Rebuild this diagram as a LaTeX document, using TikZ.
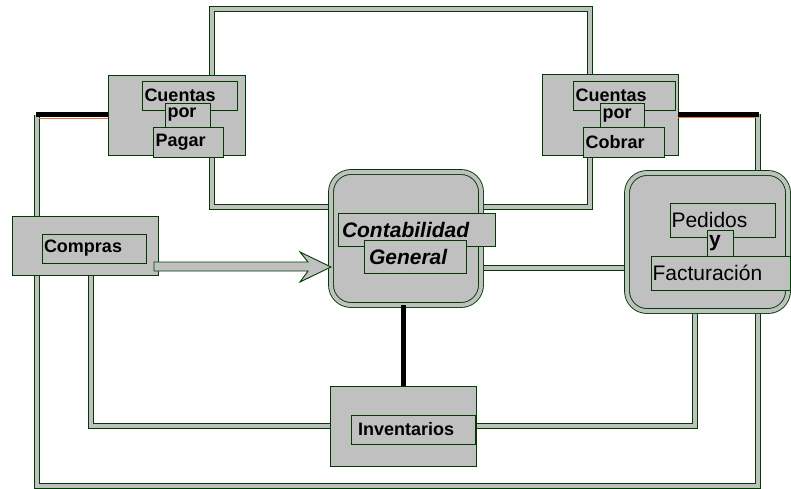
\documentclass[tikz,border=0pt]{standalone}
\usepackage{fontspec}
\setmainfont{Liberation Sans}
\usetikzlibrary{backgrounds}
\definecolor{boxgray}{RGB}{192,192,192}
\definecolor{dkgreen}{RGB}{0,60,0}
\definecolor{shadeorange}{RGB}{235,110,50}
\begin{document}
\begin{tikzpicture}[x=1pt, y=-1pt,
    blk/.style={draw=dkgreen, fill=boxgray, line width=0.9pt, anchor=north west, inner sep=0pt, outer sep=0pt},
    rblk/.style={blk, double=boxgray, double distance=4pt, rounded corners=20pt},
    lbl/.style={blk, align=left, inner xsep=2.5pt, font=\fontsize{18}{20}\selectfont\bfseries},
    pipe/.style={draw=dkgreen, line width=1pt, double=boxgray, double distance=4pt},
    bar/.style={line width=5pt, black}]
    \useasboundingbox (0,0) rectangle (791,489);
    % outer boxes
    \node[blk, minimum width=137pt, minimum height=80pt] (cxp) at (108,75) {};
    \node[blk, minimum width=136pt, minimum height=81pt] (cxc) at (542,74) {};
    \node[rblk, minimum width=150pt, minimum height=133pt] (conta) at (331,172) {};
    \node[rblk, minimum width=161pt, minimum height=138pt] (pyf) at (627,173) {};
    \node[blk, minimum width=146pt, minimum height=59pt] (compras) at (12,216) {};
    \node[blk, minimum width=146pt, minimum height=80pt] (inv) at (330,386) {};
    % labels
    \node[lbl, text width=90pt, minimum height=29pt] (cxpA) at (142,81) {Cuentas};
    \node[lbl, text width=40pt, minimum height=24pt] (cxpB) at (165,103) {por};
    \node[lbl, text width=65pt, minimum height=30pt] (cxpC) at (153,127) {Pagar};
    \node[lbl, text width=97pt, minimum height=29pt] (cxcA) at (573,81) {Cuentas};
    \node[lbl, text width=39pt, minimum height=25pt] (cxcB) at (600,103) {por};
    \node[lbl, text width=76pt, minimum height=30pt] (cxcC) at (583,127) {Cobrar};
    \node[lbl, inner xsep=4pt, text width=149pt, minimum height=33pt, font=\fontsize{21}{24}\selectfont\bfseries\itshape] (contaA) at (338,213) {Contabilidad};
    \node[lbl, inner xsep=5pt, text width=92pt, minimum height=33pt, font=\fontsize{21}{24}\selectfont\bfseries\itshape] (contaB) at (364,240) {General};
    \node[lbl, inner xsep=1.5pt, text width=102pt, minimum height=34pt, font=\fontsize{21}{24}\selectfont] (pyfA) at (670,203) {Pedidos};
    \node[lbl, inner xsep=2pt, text width=22pt, minimum height=27pt, font=\fontsize{21}{24}\selectfont\bfseries] (pyfB) at (707,230) {y};
    \node[lbl, inner xsep=1.5pt, text width=136pt, minimum height=34pt, font=\fontsize{21}{24}\selectfont] (pyfC) at (651,256) {Facturación};
    \node[lbl, inner xsep=2pt, text width=100pt, minimum height=29pt] (comprasA) at (42,234) {Compras};
    \node[lbl, inner xsep=7pt, text width=110pt, minimum height=29pt] (invA) at (351,415) {Inventarios};
    % connectors
    \begin{scope}[on background layer]
        \draw[pipe] (212,0 |- cxp.north) -- (212,9) -- (590,9) -- (590,0 |- cxc.north);
        \draw[pipe] (212,0 |- cxp.south) -- (212,207) -- (590,207) -- (590,0 |- cxc.south);
        \draw[pipe] (37,0 |- cxp.west) -- (37,486) -- (758,486) -- (758,0 |- cxc.east);
        \draw[pipe] (91,0 |- compras.south) -- (91,0 |- inv.west) -- (inv.west);
        \draw[pipe] (inv.east) -- (695,0 |- inv.east) -- (695,0 |- pyf.south);
        \draw[pipe] (conta.east |- 0,268) -- (pyf.west |- 0,268);
    \end{scope}
    \draw[shadeorange, line width=0.9pt] ([yshift=-3.3pt]cxp.west) -- ([yshift=-3.3pt]cxp.west -| 39,0);
    \draw[shadeorange, line width=0.9pt] ([yshift=-3.3pt]cxc.east) -- ([yshift=-3.3pt]cxc.east -| 756,0);
    \draw[bar] (cxp.west) -- (36,0 |- cxp.west);
    \draw[bar] (cxc.east) -- (759,0 |- cxc.east);
    \draw[bar] (inv.north) -- (inv.north |- conta.south);
    % arrow from Compras
    \draw[draw=dkgreen, fill=boxgray, line width=0.9pt] (154,262) -- (308,262) -- (300,252)
        -- (conta.west |- 0,267) -- (300,282) -- (308,271) -- (154,271) -- cycle;
\end{tikzpicture}
\end{document}
